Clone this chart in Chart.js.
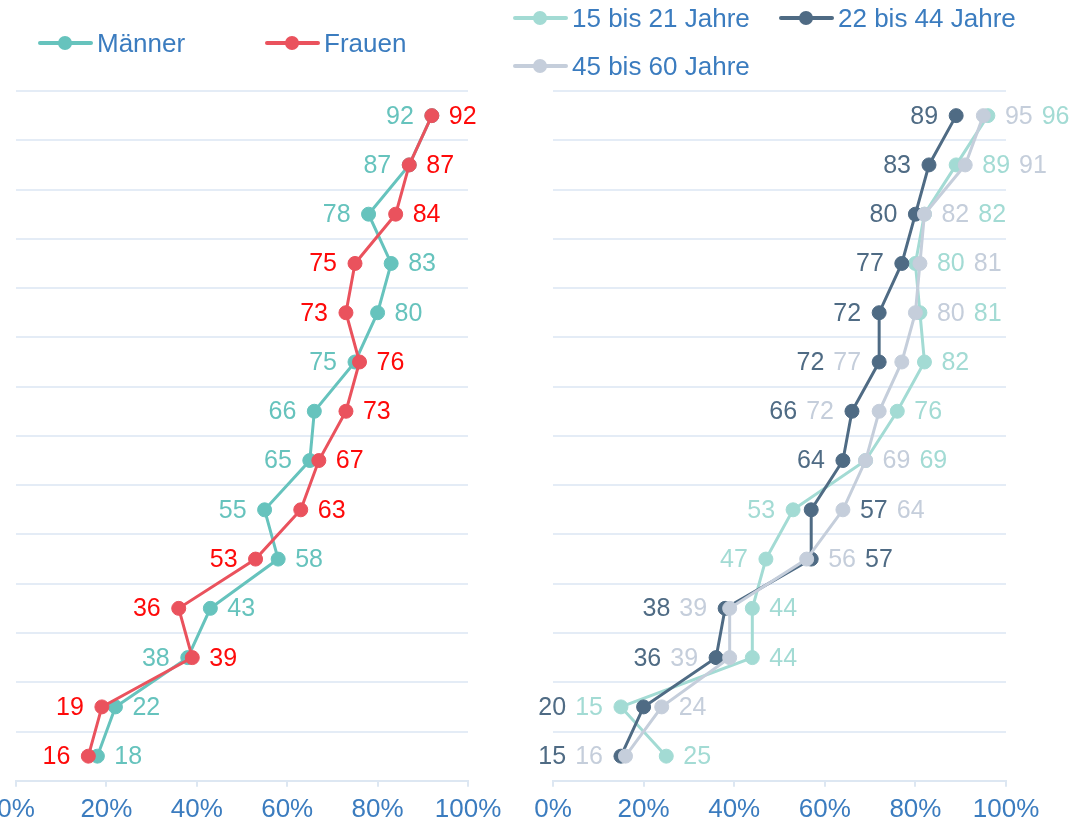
<!DOCTYPE html>
<html>
<head>
<meta charset="utf-8">
<script src="https://cdn.jsdelivr.net/npm/chart.js@4"></script>
<style>
	body { margin: 0; background: #fff; font-family: Arial, "Liberation Sans", sans-serif; }
	#page { position: relative; width: 1071px; height: 824px; overflow: hidden; }
	.box { position: absolute; top: 0; height: 832px; }
	.item { position: absolute; display: flex; align-items: center; height: 30px; margin-top: -15px; color: #3b7cbf; font-size: 26px; white-space: nowrap; }
	.sym { position: relative; width: 55px; height: 14px; margin-right: 4px; }
	.sym .ln { position: absolute; left: 0; right: 0; top: 5px; height: 4px; border-radius: 2px; }
	.sym .dt { position: absolute; left: 20px; top: 0; width: 14px; height: 14px; border-radius: 50%; }
</style>
</head>
<body>
<div id="page">
	<div class="box" style="left:-10px;width:545px"><canvas id="chartSex" width="545" height="832"></canvas></div>
	<div class="box" style="left:527px;width:544px"><canvas id="chartAge" width="544" height="832"></canvas></div>
</div>
<script>
// 14 rows, top to bottom (row texts are not shown in the picture)
var rows = ["1", "2", "3", "4", "5", "6", "7", "8", "9", "10", "11", "12", "13", "14"];

var maenner = [92, 87, 78, 83, 80, 75, 66, 65, 55, 58, 43, 38, 22, 18];
var frauen  = [92, 87, 84, 75, 73, 76, 73, 67, 63, 53, 36, 39, 19, 16];

var age15to21 = [96, 89, 82, 80, 81, 82, 76, 69, 53, 47, 44, 44, 15, 25];
var age22to44 = [89, 83, 80, 77, 72, 72, 66, 64, 57, 57, 38, 36, 20, 15];
var age45to60 = [95, 91, 82, 81, 80, 77, 72, 69, 64, 56, 39, 39, 24, 16];

var xTicks = [0, 20, 40, 60, 80, 100];

// which side of the dots each value label sits on (right chart)
var ageLabelSides = [
	"RRRRRRRRLLRRLR",  // 15 bis 21
	"LLLLLLLLRRLLLL",  // 22 bis 44
	"RRRRRLLRRRLLRL"   // 45 bis 60
];

var FONT = 'Arial, "Liberation Sans", sans-serif';
var TICK_BLUE = "#3b7cbf";

var legendItems = [
	{ text: "Männer", color: "#66c3bd", x: 38, y: 43 },
	{ text: "Frauen", color: "#ea525d", x: 265, y: 43 },
	{ text: "15 bis 21 Jahre", color: "#a3dbd4", x: 513, y: 18 },
	{ text: "22 bis 44 Jahre", color: "#4f6b84", x: 779, y: 18 },
	{ text: "45 bis 60 Jahre", color: "#c5cedb", x: 513, y: 66 }
];

legendItems.forEach(function(it) {
	var div = document.createElement("div");
	div.className = "item";
	div.style.left = it.x + "px";
	div.style.top = it.y + "px";
	div.innerHTML = '<span class="sym"><span class="ln" style="background:' + it.color + '"></span>' +
		'<span class="dt" style="background:' + it.color + '"></span></span>' + it.text;
	document.getElementById("page").appendChild(div);
});

var valueLabels = {
	id: "valueLabels",
	afterDatasetsDraw: function(chart, args, opts) {
		var ctx = chart.ctx;
		ctx.save();
		ctx.font = "25px " + FONT;
		ctx.textBaseline = "middle";
		for (var i = 0; i < chart.data.labels.length; i++) {
			var items = chart.data.datasets.map(function(ds, d) {
				var el = chart.getDatasetMeta(d).data[i];
				return { x: el.x, y: el.y, v: ds.data[i], color: ds.labelColor, prio: ds.labelPrio, side: opts.side(d, i) };
			});
			var xs = items.map(function(o) { return o.x; });
			var minX = Math.min.apply(null, xs), maxX = Math.max.apply(null, xs);

			var right = items.filter(function(o) { return o.side === "R"; })
				.sort(function(a, b) { return (a.v - b.v) || (a.prio - b.prio); });
			var left = items.filter(function(o) { return o.side === "L"; })
				.sort(function(a, b) { return (a.prio - b.prio) || (b.v - a.v); });

			var cx = maxX + 17;
			ctx.textAlign = "left";
			right.forEach(function(o) {
				ctx.fillStyle = o.color;
				ctx.fillText(String(o.v), cx, o.y + 1);
				cx += ctx.measureText(String(o.v)).width + 9;
			});
			cx = minX - 18;
			ctx.textAlign = "right";
			left.forEach(function(o) {
				ctx.fillStyle = o.color;
				ctx.fillText(String(o.v), cx, o.y + 1);
				cx -= ctx.measureText(String(o.v)).width + 9;
			});
		}
		ctx.restore();
	}
};

function lineSet(label, data, color, labelColor, order, prio) {
	return {
		label: label,
		data: data,
		borderColor: color,
		backgroundColor: color,
		borderWidth: 3,
		pointRadius: 7,
		pointBorderWidth: 1,
		pointBackgroundColor: color,
		pointBorderColor: color,
		tension: 0,
		fill: false,
		order: order,
		labelColor: labelColor,
		labelPrio: prio
	};
}

function makeOptions(padLeft, padRight, sideFn) {
	return {
		responsive: false,
		animation: false,
		indexAxis: "y",
		layout: { padding: { left: padLeft, right: padRight, top: 91, bottom: 0 } },
		plugins: {
			legend: { display: false },
			tooltip: { enabled: false },
			valueLabels: { side: sideFn }
		},
		scales: {
			x: {
				type: "linear",
				min: 0,
				max: 100,
				afterBuildTicks: function(scale) {
					scale.ticks = xTicks.map(function(v) { return { value: v }; });
				},
				ticks: {
					color: TICK_BLUE,
					font: { size: 26, family: FONT },
					padding: 7,
					maxRotation: 0,
					callback: function(v) { return v + "%"; }
				},
				grid: { drawOnChartArea: false, drawTicks: true, tickLength: 6, color: "#dde7f2", lineWidth: 2 },
				border: { display: true, color: "#dde7f2", width: 2 }
			},
			y: {
				type: "category",
				offset: true,
				ticks: { display: false },
				grid: { offset: true, color: "#e4ecf6", lineWidth: 2, drawTicks: false },
				border: { display: false }
			}
		}
	};
}

new Chart(document.getElementById("chartSex"), {
	type: "line",
	data: {
		labels: rows,
		datasets: [
			lineSet("Männer", maenner, "#66c3bd", "#66c3bd", 2, 0),
			lineSet("Frauen", frauen, "#ea525d", "#fe0a0a", 1, 1)
		]
	},
	options: makeOptions(26, 67, function(d, i) {
		// smaller value goes left, ties: Männer left
		var m = maenner[i], f = frauen[i];
		if (d === 0) return m <= f ? "L" : "R";
		return m <= f ? "R" : "L";
	}),
	plugins: [valueLabels]
});

new Chart(document.getElementById("chartAge"), {
	type: "line",
	data: {
		labels: rows,
		datasets: [
			lineSet("15 bis 21 Jahre", age15to21, "#a3dbd4", "#a3dbd4", 3, 1),
			lineSet("22 bis 44 Jahre", age22to44, "#4f6b84", "#4f6b84", 2, 2),
			lineSet("45 bis 60 Jahre", age45to60, "#c5cedb", "#c5cedb", 1, 0)
		]
	},
	options: makeOptions(26, 65, function(d, i) {
		return ageLabelSides[d].charAt(i);
	}),
	plugins: [valueLabels]
});
</script>
</body>
</html>
